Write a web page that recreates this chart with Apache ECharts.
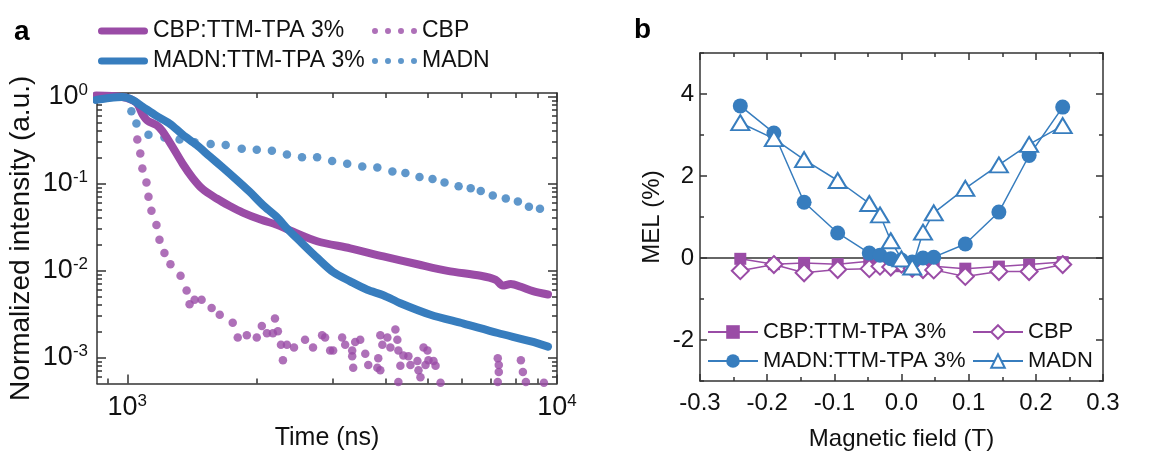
<!DOCTYPE html>
<html><head><meta charset="utf-8">
<script src="https://cdn.jsdelivr.net/npm/echarts@6/dist/echarts.min.js"></script>
<style>html,body{margin:0;padding:0;background:#fff}#c{width:1162px;height:456px}</style>
</head><body><div id="c"></div>
<script>
// ---------- Panel a : transient decays (time in ns, normalized intensity) ----------
const cbpTtmTime = [846, 973, 1050, 1084, 1114, 1169, 1207, 1274, 1345, 1419, 1497, 1614, 1731, 1857, 2034, 2229, 2365, 2765, 3302, 3943, 4734, 5563, 6645, 7203, 7477, 7808, 8240, 8790, 9528];
const cbpTtmInt  = [1.03, 0.99, 0.85, 0.63, 0.53, 0.47, 0.40, 0.264, 0.169, 0.116, 0.0864, 0.0673, 0.0553, 0.0464, 0.0388, 0.0335, 0.0296, 0.0217, 0.018, 0.0145, 0.0118, 0.0099, 0.0087, 0.0078, 0.0067, 0.0070, 0.0065, 0.0058, 0.0053];

const madnTtmTime = [846, 908, 973, 1027, 1084, 1169, 1253, 1345, 1449, 1554, 1667, 1798, 1928, 2067, 2229, 2365, 2522, 2765, 3013, 3302, 3618, 3943, 4320, 5077, 6063, 7280, 8700, 9528];
const madnTtmInt  = [0.917, 0.963, 0.988, 0.917, 0.770, 0.600, 0.492, 0.365, 0.278, 0.206, 0.153, 0.110, 0.0801, 0.0567, 0.0410, 0.0296, 0.0217, 0.0140, 0.0096, 0.0075, 0.0060, 0.0052, 0.0042, 0.0031, 0.00245, 0.00191, 0.00153, 0.00133];

const cbpTime = [1055, 1072, 1084, 1108, 1120, 1138, 1169, 1188, 1220, 1260, 1330, 1374, 1396, 1434, 1489, 1571, 1641, 1759, 1807, 1897, 2001, 2056, 2113, 2182, 2206, 2241, 2278, 2302, 2352, 2443, 2592, 2705, 2840, 2886, 2965, 3013, 3162, 3214, 3337, 3337, 3391, 3484, 3355, 3579, 3637, 3818, 3880, 3837, 3880, 3922, 4029, 4095, 4206, 4251, 4274, 4274, 4320, 4390, 4510, 4559, 4734, 4760, 4811, 4891, 4996, 4943, 5022, 5160, 5216, 5358, 7280, 7320, 7320, 7280, 8240, 8329, 8464, 9324];
const cbpInt  = [0.322, 0.222, 0.149, 0.1025, 0.0706, 0.0486, 0.0334, 0.0225, 0.0159, 0.0118, 0.0087, 0.0059, 0.0041, 0.0046, 0.0046, 0.0037, 0.0031, 0.0025, 0.0017, 0.0018, 0.0017, 0.0023, 0.0019, 0.0019, 0.0028, 0.0020, 0.0014, 0.00093, 0.0014, 0.0013, 0.0016, 0.0013, 0.0018, 0.0017, 0.0012, 0.0012, 0.0017, 0.0014, 0.0012, 0.00103, 0.0015, 0.0016, 0.00076, 0.0011, 0.00082, 0.00076, 0.00071, 0.00098, 0.0018, 0.0014, 0.0017, 0.0013, 0.0021, 0.0016, 0.0012, 0.00052, 0.0008, 0.00105, 0.00103, 0.00082, 0.00091, 0.00071, 0.00059, 0.0013, 0.0012, 0.00082, 0.00093, 0.00091, 0.0008, 0.00051, 0.00098, 0.00082, 0.00068, 0.00052, 0.00093, 0.00068, 0.00052, 0.00051];

const madnTime = [1022, 1050, 1120, 1220, 1323, 1434, 1563, 1694, 1846, 2001, 2170, 2352, 2550, 2765, 2997, 3249, 3522, 3818, 4139, 4438, 4786, 5132, 5473, 5902, 6297, 6645, 7088, 7600, 8109, 8603, 9127];
const madnInt  = [0.680, 0.492, 0.365, 0.339, 0.322, 0.299, 0.285, 0.277, 0.251, 0.245, 0.239, 0.216, 0.200, 0.200, 0.182, 0.169, 0.157, 0.153, 0.138, 0.132, 0.119, 0.113, 0.103, 0.093, 0.0885, 0.0822, 0.0727, 0.0673, 0.0623, 0.054, 0.0513];

const timeMajorTicks = [1000, 10000];
const timeMinorTicks = [900, 2000, 3000, 4000, 5000, 6000, 7000, 8000, 9000];
const intMajorTicks = [1, 0.1, 0.01, 0.001];
const intMinorTicks = [0.0006, 0.0007, 0.0008, 0.0009, 0.002, 0.003, 0.004, 0.005, 0.006, 0.007, 0.008, 0.009, 0.02, 0.03, 0.04, 0.05, 0.06, 0.07, 0.08, 0.09, 0.2, 0.3, 0.4, 0.5, 0.6, 0.7, 0.8, 0.9];

// ---------- Panel b : MEL vs magnetic field ----------
const field = [-0.24, -0.19, -0.145, -0.095, -0.048, -0.032, -0.016, 0, 0.016, 0.032, 0.048, 0.095, 0.145, 0.19, 0.24];
const melCbpTtm  = [-0.02, -0.15, -0.12, -0.15, -0.08, -0.12, -0.15, -0.2, -0.25, -0.25, -0.2, -0.26, -0.21, -0.16, -0.1];
const melCbp     = [-0.31, -0.16, -0.36, -0.28, -0.26, -0.2, -0.22, -0.15, -0.25, -0.28, -0.29, -0.45, -0.33, -0.33, -0.16];
const melMadnTtm = [3.71, 3.05, 1.36, 0.61, 0.12, 0.07, -0.02, -0.05, -0.1, 0.0, 0.02, 0.34, 1.12, 2.5, 3.68];
const melMadn    = [3.3, 2.91, 2.4, 1.89, 1.33, 1.05, 0.42, -0.02, -0.22, 0.63, 1.1, 1.7, 2.27, 2.77, 3.23];
const melMajorTicks = [-2, 0, 2, 4];

const FONT = '"Liberation Sans", Arial, Helvetica, sans-serif';
const PURPLE = '#9a4ca6', BLUE = '#377dbe', AX = '#333', TXT = '#111';
const zip = (a, b) => a.map((v, i) => [v, b[i]]);

const pow10 = v => '{b|10}{s|' + Math.round(Math.log10(v)) + '}';
const richPow = {
  b: {fontSize: 27, lineHeight: 30, fontFamily: FONT, color: TXT},
  s: {fontSize: 17, lineHeight: 17, verticalAlign: 'top', fontFamily: FONT, color: TXT}
};

function logAxis(grid, pos, min, max, ticks, len, line, label, extra) {
  return Object.assign({
    gridIndex: grid, type: 'log', logBase: 10, min: min, max: max, position: pos,
    axisLine: {show: line, onZero: false, lineStyle: {color: AX, width: 1.5}},
    axisTick: {show: true, inside: true, length: len, customValues: ticks, lineStyle: {color: AX, width: 1.5}},
    axisLabel: label ? {show: true, customValues: ticks, formatter: pow10, rich: richPow, margin: 9} : {show: false},
    splitLine: {show: false}, minorTick: {show: false}
  }, extra || {});
}

const BAR = 'path://M3.5,0H46.5A3.5,3.5,0,0,1,46.5,7H3.5A3.5,3.5,0,0,1,3.5,0Z';
const DOTS = 'path://M0,3A3,3,0,1,0,6,3A3,3,0,1,0,0,3ZM13,3A3,3,0,1,0,19,3A3,3,0,1,0,13,3ZM26,3A3,3,0,1,0,32,3A3,3,0,1,0,26,3ZM39,3A3,3,0,1,0,45,3A3,3,0,1,0,39,3Z';
const legendTextA = {fontSize: 23, fontFamily: FONT, color: TXT, lineHeight: 26};
const legendTextB = {fontSize: 22, fontFamily: FONT, color: TXT, lineHeight: 26};

const chart = echarts.init(document.getElementById('c'), null, {renderer: 'canvas'});
chart.setOption({
  animation: false,
  backgroundColor: '#fff',
  title: [
    {text: 'a', left: 9, top: 13, textStyle: {fontSize: 28, fontWeight: 'bold', fontFamily: FONT, color: '#000'}},
    {text: 'b', left: 629, top: 11, textStyle: {fontSize: 28, fontWeight: 'bold', fontFamily: FONT, color: '#000'}}
  ],
  grid: [
    {left: 97, top: 93, width: 460, height: 309},
    {left: 700, top: 53, width: 403, height: 330}
  ],
  legend: [
    {orient: 'vertical', left: 98, top: 18, padding: 0, itemGap: 4, itemWidth: 50, itemHeight: 7, textStyle: legendTextA,
     data: [{name: 'CBP:TTM-TPA 3%', icon: BAR}, {name: 'MADN:TTM-TPA 3%', icon: BAR}]},
    {orient: 'vertical', left: 372, top: 18, padding: 0, itemGap: 4, itemWidth: 45, itemHeight: 6, textStyle: legendTextA,
     data: [{name: 'CBP', icon: DOTS}, {name: 'MADN', icon: DOTS}]},
    {orient: 'vertical', left: 707, top: 319, padding: 0, itemGap: 3, itemWidth: 50, itemHeight: 17, textStyle: legendTextB,
     formatter: n => n.replace(' (b)', ''), data: ['CBP:TTM-TPA 3% (b)', 'MADN:TTM-TPA 3% (b)']},
    {orient: 'vertical', left: 972, top: 319, padding: 0, itemGap: 3, itemWidth: 50, itemHeight: 17, textStyle: legendTextB,
     formatter: n => n.replace(' (b)', ''), data: ['CBP (b)', 'MADN (b)']}
  ],
  xAxis: [
    logAxis(0, 'bottom', 850, 10000, timeMajorTicks, 9, true, true,
      {name: 'Time (ns)', nameLocation: 'middle', nameGap: 26, nameTextStyle: {fontSize: 25, fontFamily: FONT, color: TXT}}),
    logAxis(0, 'bottom', 850, 10000, timeMinorTicks, 5, false, false),
    logAxis(0, 'top', 850, 10000, timeMajorTicks, 9, true, false),
    logAxis(0, 'top', 850, 10000, timeMinorTicks, 5, false, false),
    {gridIndex: 1, type: 'value', min: -0.3, max: 0.3, interval: 0.1, position: 'bottom',
     name: 'Magnetic field (T)', nameLocation: 'middle', nameGap: 46, nameTextStyle: {fontSize: 24, fontFamily: FONT, color: TXT},
     axisLine: {show: true, onZero: false, lineStyle: {color: AX, width: 1.5}},
     axisTick: {show: true, inside: true, length: 7, lineStyle: {color: AX, width: 1.5}},
     minorTick: {show: true, splitNumber: 2, length: 4, lineStyle: {color: AX, width: 1.5}},
     axisLabel: {show: true, margin: 10, fontSize: 24, fontFamily: FONT, color: TXT, formatter: v => v.toFixed(1)},
     splitLine: {show: false}},
    {gridIndex: 1, type: 'value', min: -0.3, max: 0.3, interval: 0.1, position: 'top',
     axisLine: {show: true, onZero: false, lineStyle: {color: AX, width: 1.5}},
     axisTick: {show: true, inside: true, length: 7, lineStyle: {color: AX, width: 1.5}},
     minorTick: {show: true, splitNumber: 2, length: 4, lineStyle: {color: AX, width: 1.5}},
     axisLabel: {show: false}, splitLine: {show: false}}
  ],
  yAxis: [
    logAxis(0, 'left', 0.0005, 1.1, intMajorTicks, 9, true, true,
      {name: 'Normalized intensity (a.u.)', nameLocation: 'middle', nameGap: 62, nameTextStyle: {fontSize: 28, fontFamily: FONT, color: TXT}}),
    logAxis(0, 'left', 0.0005, 1.1, intMinorTicks, 5, false, false),
    logAxis(0, 'right', 0.0005, 1.1, intMajorTicks, 9, true, false),
    logAxis(0, 'right', 0.0005, 1.1, intMinorTicks, 5, false, false),
    {gridIndex: 1, type: 'value', min: -3, max: 5, position: 'left',
     name: 'MEL (%)', nameLocation: 'middle', nameGap: 36, nameTextStyle: {fontSize: 24, fontFamily: FONT, color: TXT},
     axisLine: {show: true, onZero: false, lineStyle: {color: AX, width: 1.5}},
     axisTick: {show: true, inside: true, length: 7, customValues: melMajorTicks, lineStyle: {color: AX, width: 1.5}},
     axisLabel: {show: true, customValues: melMajorTicks, margin: 6, fontSize: 24, fontFamily: FONT, color: TXT},
     splitLine: {show: false}},
    {gridIndex: 1, type: 'value', min: -3, max: 5, interval: 1, position: 'left',
     axisLine: {show: false, onZero: false}, axisTick: {show: true, inside: true, length: 4, lineStyle: {color: AX, width: 1.5}},
     axisLabel: {show: false}, splitLine: {show: false}},
    {gridIndex: 1, type: 'value', min: -3, max: 5, position: 'right',
     axisLine: {show: true, onZero: false, lineStyle: {color: AX, width: 1.5}},
     axisTick: {show: true, inside: true, length: 7, customValues: melMajorTicks, lineStyle: {color: AX, width: 1.5}},
     axisLabel: {show: false}, splitLine: {show: false}},
    {gridIndex: 1, type: 'value', min: -3, max: 5, interval: 1, position: 'right',
     axisLine: {show: false, onZero: false}, axisTick: {show: true, inside: true, length: 4, lineStyle: {color: AX, width: 1.5}},
     axisLabel: {show: false}, splitLine: {show: false}}
  ],
  series: [
    {type: 'line', name: 'CBP:TTM-TPA 3%', xAxisIndex: 0, yAxisIndex: 0, data: zip(cbpTtmTime, cbpTtmInt),
     showSymbol: false, symbol: 'none', smooth: 0.3, lineStyle: {color: PURPLE, width: 8, cap: 'round', join: 'round'}, itemStyle: {color: PURPLE}},
    {type: 'line', name: 'MADN:TTM-TPA 3%', xAxisIndex: 0, yAxisIndex: 0, data: zip(madnTtmTime, madnTtmInt),
     showSymbol: false, symbol: 'none', smooth: 0.3, lineStyle: {color: BLUE, width: 8, cap: 'round', join: 'round'}, itemStyle: {color: BLUE}},
    {type: 'scatter', name: 'CBP', xAxisIndex: 0, yAxisIndex: 0, data: zip(cbpTime, cbpInt), symbolSize: 8.5, itemStyle: {color: PURPLE}},
    {type: 'scatter', name: 'MADN', xAxisIndex: 0, yAxisIndex: 0, data: zip(madnTime, madnInt), symbolSize: 8.5, itemStyle: {color: BLUE}},

    {type: 'line', name: 'CBP:TTM-TPA 3% (b)', xAxisIndex: 4, yAxisIndex: 4, data: zip(field, melCbpTtm),
     symbol: 'rect', symbolSize: 12, lineStyle: {color: PURPLE, width: 1.5}, itemStyle: {color: PURPLE, borderWidth: 0},
     markLine: {silent: true, z: 1, symbol: 'none', label: {show: false}, lineStyle: {color: AX, width: 1.5, type: 'solid'}, data: [{yAxis: 0}]}},
    {type: 'line', name: 'CBP (b)', xAxisIndex: 4, yAxisIndex: 4, data: zip(field, melCbp),
     symbol: 'emptyDiamond', symbolSize: 17, lineStyle: {color: PURPLE, width: 1.5}, itemStyle: {color: PURPLE, borderWidth: 2}},
    {type: 'line', name: 'MADN:TTM-TPA 3% (b)', xAxisIndex: 4, yAxisIndex: 4, data: zip(field, melMadnTtm),
     symbol: 'circle', symbolSize: 15, lineStyle: {color: BLUE, width: 1.5}, itemStyle: {color: BLUE, borderWidth: 0}},
    {type: 'line', name: 'MADN (b)', xAxisIndex: 4, yAxisIndex: 4, data: zip(field, melMadn),
     symbol: 'emptyTriangle', symbolSize: [18, 15], lineStyle: {color: BLUE, width: 1.5}, itemStyle: {color: BLUE, borderWidth: 2}}
  ]
});
</script></body></html>
